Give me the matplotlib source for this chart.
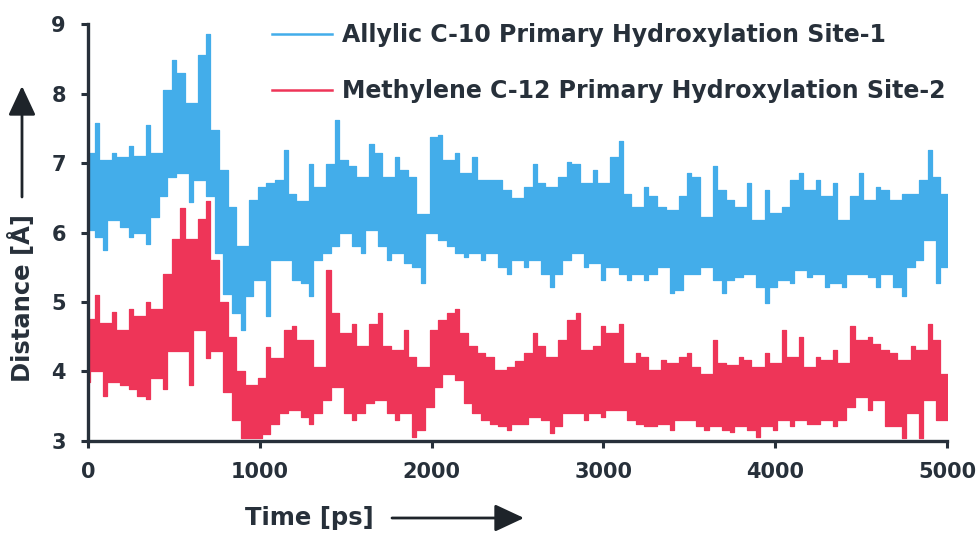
import numpy as np
import matplotlib
matplotlib.use("Agg")
import matplotlib.pyplot as plt

# Sampling grid (ps) for the upper / lower extent of each distance trace
time_ps = np.arange(0, 5001, 50)

site1_hi = [7.15, 7.57, 7.04, 7.14, 7.09, 7.24, 7.10, 7.55, 7.14, 8.05,
            8.48, 8.29, 7.86, 8.55, 8.85, 7.47, 6.90, 6.37, 5.80, 6.47,
            6.66, 6.71, 6.76, 7.19, 6.56, 6.45, 6.99, 6.66, 6.99, 7.62,
            7.04, 6.95, 6.80, 7.28, 7.14, 6.80, 7.09, 6.90, 6.80, 6.27,
            7.38, 7.40, 7.04, 7.14, 6.85, 7.09, 6.76, 6.76, 6.76, 6.61,
            6.50, 6.66, 6.99, 6.71, 6.66, 6.80, 7.02, 6.99, 6.71, 6.90,
            6.71, 7.09, 7.31, 6.56, 6.37, 6.66, 6.52, 6.37, 6.33, 6.52,
            6.85, 6.80, 6.23, 6.95, 6.61, 6.47, 6.37, 6.71, 6.18, 6.61,
            6.28, 6.37, 6.76, 6.85, 6.61, 6.76, 6.52, 6.71, 6.18, 6.52,
            6.85, 6.47, 6.66, 6.61, 6.47, 6.56, 6.56, 6.76, 7.19, 6.80,
            6.56]
site1_lo = [6.04, 5.94, 5.75, 6.18, 6.08, 5.94, 6.00, 5.84, 6.23, 6.52,
            6.80, 6.85, 6.44, 6.75, 6.52, 5.70, 5.12, 4.84, 4.60, 5.08,
            5.32, 4.80, 5.60, 5.60, 5.32, 5.27, 5.08, 5.60, 5.70, 5.80,
            5.99, 5.80, 5.70, 6.04, 5.80, 5.60, 5.70, 5.56, 5.51, 5.27,
            5.99, 5.89, 5.80, 5.70, 5.65, 5.70, 5.60, 5.70, 5.51, 5.41,
            5.60, 5.51, 5.60, 5.41, 5.22, 5.41, 5.60, 5.70, 5.51, 5.56,
            5.32, 5.51, 5.41, 5.32, 5.41, 5.32, 5.41, 5.51, 5.13, 5.17,
            5.41, 5.41, 5.51, 5.32, 5.13, 5.32, 5.36, 5.41, 5.22, 4.98,
            5.22, 5.32, 5.27, 5.46, 5.36, 5.41, 5.22, 5.27, 5.22, 5.41,
            5.41, 5.36, 5.22, 5.41, 5.22, 5.08, 5.51, 5.60, 5.89, 5.27,
            5.51]

site2_hi = [4.75, 5.10, 4.70, 4.85, 4.60, 4.90, 4.80, 5.00, 4.90, 5.40,
            5.90, 6.35, 5.90, 6.20, 6.45, 5.60, 5.00, 4.50, 4.00, 3.80,
            3.90, 4.35, 4.20, 4.60, 4.65, 4.45, 4.45, 4.07, 5.46, 4.84,
            4.55, 4.69, 4.36, 4.69, 4.84, 4.36, 4.31, 4.60, 4.21, 4.07,
            4.60, 4.74, 4.84, 4.90, 4.55, 4.36, 4.26, 4.21, 4.02, 4.07,
            4.15, 4.26, 4.55, 4.36, 4.21, 4.45, 4.74, 4.84, 4.31, 4.36,
            4.65, 4.55, 4.69, 4.12, 4.26, 4.21, 4.02, 4.17, 4.12, 4.21,
            4.26, 4.07, 3.97, 4.45, 4.12, 4.10, 4.21, 4.17, 4.07, 4.26,
            4.12, 4.60, 4.21, 4.50, 4.07, 4.21, 4.17, 4.31, 4.12, 4.65,
            4.45, 4.50, 4.40, 4.31, 4.26, 4.17, 4.36, 4.31, 4.69, 4.45,
            3.97]
site2_lo = [3.85, 4.00, 3.65, 3.85, 3.80, 3.75, 3.65, 3.60, 3.90, 3.75,
            4.30, 4.30, 3.80, 4.60, 4.20, 4.30, 3.70, 3.30, 3.05, 3.05,
            3.05, 3.10, 3.25, 3.40, 3.45, 3.35, 3.25, 3.40, 3.59, 3.78,
            3.40, 3.30, 3.40, 3.54, 3.59, 3.40, 3.30, 3.40, 3.06, 3.16,
            3.49, 3.78, 3.97, 3.88, 3.54, 3.40, 3.30, 3.25, 3.21, 3.16,
            3.25, 3.25, 3.35, 3.30, 3.11, 3.21, 3.40, 3.40, 3.30, 3.40,
            3.35, 3.45, 3.45, 3.30, 3.25, 3.21, 3.21, 3.25, 3.16, 3.30,
            3.30, 3.21, 3.16, 3.21, 3.16, 3.13, 3.21, 3.16, 3.06, 3.21,
            3.16, 3.30, 3.21, 3.30, 3.25, 3.25, 3.30, 3.21, 3.30, 3.49,
            3.64, 3.45, 3.59, 3.21, 3.21, 3.05, 3.40, 3.05, 3.59, 3.30,
            3.30]

labels = ["Allylic C-10 Primary Hydroxylation Site-1",
          "Methylene C-12 Primary Hydroxylation Site-2"]
colors = ["#43ADEA", "#EE3558"]

x_ticks = [0, 1000, 2000, 3000, 4000, 5000]
y_ticks = [3, 4, 5, 6, 7, 8, 9]


def skyline(t, lo, hi, width):
    """Each sample becomes a narrow column spanning lo..hi; the space between
    neighbouring columns is filled only where both columns overlap."""
    xs, ylo, yhi = [], [], []
    n = len(t)
    for i in range(n):
        xs += [t[i] - width / 2, t[i] + width / 2]
        ylo.append(lo[i])
        yhi.append(hi[i])
        if i + 1 < n:
            ylo.append(max(lo[i], lo[i + 1]))
            yhi.append(min(hi[i], hi[i + 1]))
        else:
            ylo.append(lo[i])
            yhi.append(hi[i])
    return np.array(xs), np.array(ylo), np.array(yhi)


ink = "#27303a"
plt.rcParams["font.family"] = ["DejaVu Sans"]
plt.rcParams["font.weight"] = "bold"

fig = plt.figure(figsize=(9.8, 5.34), dpi=100)
ax = fig.add_axes([0.0898, 0.1742, 0.8765, 0.7808])

handles = []
for hi, lo, col, lab in [(site1_hi, site1_lo, colors[0], labels[0]),
                         (site2_hi, site2_lo, colors[1], labels[1])]:
    xs, ylo, yhi = skyline(time_ps, lo, hi, 24)
    ax.fill_between(xs, ylo, yhi, step="post", color=col, lw=0.9,
                    zorder=2)
    h, = ax.plot([], [], color=col, lw=1.8, label=lab)
    handles.append(h)

ax.set_xlim(0, 5000)
ax.set_ylim(3, 9)
ax.set_xticks(x_ticks)
ax.set_yticks(y_ticks)
for side in ("top", "right"):
    ax.spines[side].set_visible(False)
for side in ("left", "bottom"):
    ax.spines[side].set_linewidth(2.4)
    ax.spines[side].set_color(ink)
ax.tick_params(axis="both", colors=ink, width=2.2, length=5,
               labelsize=15, labelcolor=ink)
ax.tick_params(axis="x", pad=10)
ax.tick_params(axis="y", pad=11)

leg = ax.legend(handles=handles, loc="upper left",
                bbox_to_anchor=(272 / 980, 1 - 23 / 534),
                bbox_transform=fig.transFigure, frameon=False,
                fontsize=17, handlelength=2.55, handletextpad=0.42,
                labelspacing=1.37, borderpad=0, borderaxespad=0)
for t in leg.get_texts():
    t.set_color(ink)
    t.set_fontweight("bold")

# axis titles with direction arrows
fig.text(22 / 980, 1 - 298 / 534, "Distance [Å]", rotation=90,
         ha="center", va="center", fontsize=17.5, color=ink,
         fontweight="bold")
fig.text(309 / 980, 1 - 518 / 534, "Time [ps]", ha="center", va="center",
         fontsize=17.5, color=ink, fontweight="bold")
arrow = dict(arrowstyle="-|>,head_length=0.9,head_width=0.42",
             color="#1e242a", lw=2.0, mutation_scale=20, shrinkA=0,
             shrinkB=0)
fig.add_artist(matplotlib.patches.FancyArrowPatch(
    (22 / 980, 1 - 197 / 534), (22 / 980, 1 - 86 / 534),
    transform=fig.transFigure, **arrow))
fig.add_artist(matplotlib.patches.FancyArrowPatch(
    (392 / 980, 1 - 518 / 534), (524 / 980, 1 - 518 / 534),
    transform=fig.transFigure, **arrow))

fig.savefig("out.png", dpi=100)
